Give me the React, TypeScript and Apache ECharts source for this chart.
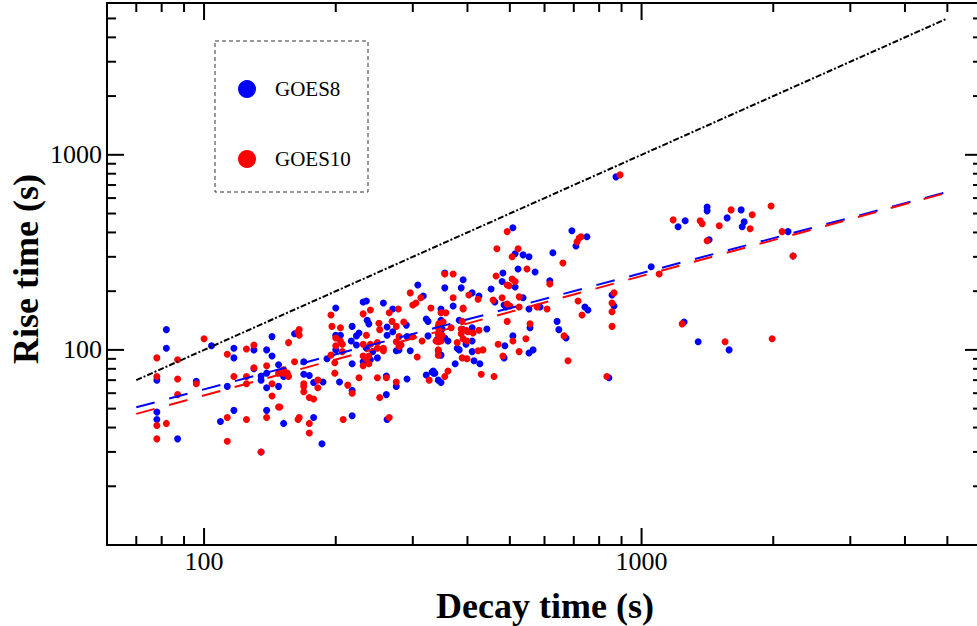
import React, { useEffect, useRef } from "react";
import * as echarts from "echarts";

// Decay time (s), Rise time (s)
const GOES8: [number, number][] = [
  [82,127],[82,102],[104,105],[78,70],[96,69],[78,48],[78,44],[87,35],[109,43],[117,102],[117,91],[113,65],[117,49],[130,100],[130,80],[135,73.5],[135,70],[135,30],[139,100],[143,93],[139,76],[139,64],[139,49],[143,117],[148,84],[152,73],[148,65],[152,42],[161,121],
  [308,215],[317,189],[231,176],[235,178],[257,174],[270,162],[200,164],[236,142],[238,136],[290,134],[262,131],[218,132],[322,144],[325,140],
  [163,122],[200,119],[205,119],[226,122],[223,118],[217,111],[262,119],[270,124],[291,117],[325,118],[200,100],[223,106],[235,102],[243,98],[275,99],[296,99],[279,100],[343,99],[191,90],[169,87],[231,87],[240,89],[249,91],[218,85],[169,75],[174,74],[178,68],[187,68.5],[204,68.5],[218,62],[261,73.5],[275,65],[291,71],[261,59],[322,74.4],[332,77],[335,76],[343,70],[178,45],[218,46],[262,44],[186,33],
  [508,423],[514,311],[536,307],[553,300],[693,408],[750,380],[708,341],[627,315],[522,260],[571,251],[355,248],[391,229],[482,248],[480,224],[514,210],[617,226],[355,208],[387,208],[453,205],[410,196],[425,189],[371,168],[462,176],[536,185],[485,170],[490,166],[553,162],[586,166],[348,162],[348,142],[383,142],[350,128],[391,127],[410,130],[443,128],[341,113],[355,115],[361,111],[379,102],[383,100],[397,107],[410,111],[348,94],[410,98],[414,88],[427,85],[556,130],[508,118],[487,105],[485,91],[553,96.5],[565,100],[641,140],[647,127],[672,115],[375,85],[334,78],[337,76],[348,68],[742,166],[754,160],
  [874,771],[1212,428],[1258,459],[1412,540],[1412,516],[1569,475],[1689,522],[1716,453],[1698,428],[1427,367],[1052,267],[865,168],[856,191],[1251,139],[1347,110],[1585,100],[842,72],[2162,404],[2220,303]
];

const GOES10: [number, number][] = [
  [100,114],[78,91],[87,89],[78,73],[87,71],[96,67],[87,59],[82,42],[78,41],[78,35],[113,95],[113,45],[113,34],[117,73],[125,101],[130,106],[130,81],[125,73],[125,67],[125,44],[135,30],[139,83],[143,67],[143,58],[139,45],[148,51],[148,76],[152,76],[156,73],[161,87],[164,124],[156,109],[164,44],
  [296,196],[313,185],[300,170],[305,174],[240,160],[231,153],[265,155],[278,162],[330,164],[195,151],[251,137],[269,140],[286,139],[275,132],[252,127],[196,132],[205,130],[343,132],[165,127],[165,119],[200,115],[205,111],[235,119],[279,117],[275,110],[300,117],[315,111],[343,121],[343,110],[200,105],[207,107],[207,98],[231,107],[240,107],[249,109],[249,102],[257,102],[279,104],[282,106],[257,99],[307,92],[343,94],[195,94],[231,93],[235,90],[238,93],[238,85],[231,83],[199,86],[199,76],[152,79],[155,76],[182,70],[169,67],[169,65],[182,64],[169,61],[213,66],[218,60],[226,72],[249,72],[261,72],[275,68.5],[252,57],[174,57],[178,56],[327,70],[165,45],[174,42],[174,37.5],[208,44],[265,45],[149,51],
  [493,404],[467,330],[522,330],[506,300],[712,358],[720,375],[727,380],[661,279],[547,260],[355,245],[371,245],[465,239],[506,231],[514,224],[493,215],[498,213],[617,218],[371,185],[403,191],[423,182],[391,164],[458,180],[480,185],[525,187],[500,168],[493,172],[525,166],[577,166],[608,162],[348,155],[357,155],[391,162],[352,139],[389,140],[344,136],[344,128],[367,130],[387,128],[397,126],[401,124],[412,122],[425,126],[387,121],[344,119],[350,119],[391,114],[348,111],[339,111],[399,111],[379,109],[343,100],[423,99],[434,100],[389,91],[399,90],[493,140],[556,136],[508,111],[544,114],[470,107],[482,93],[525,98],[665,118],[679,88],[361,78],[355,73],[430,75],[460,73],[716,178],[731,151],
  [893,789],[1181,464],[1361,459],[1376,443],[1505,433],[1602,522],[1790,493],[1771,418],[1977,547],[1412,363],[1097,245],[865,196],[856,174],[856,157],[856,132],[1238,136],[1552,110],[1988,114],[833,73],[2095,404],[2220,303]
];

const FIT_GOES8: [number, number][] = [[70, 50.8], [5000, 645]];
const FIT_GOES10: [number, number][] = [[70, 47.0], [5000, 640]];
const EQUALITY: [number, number][] = [[70, 70], [5000, 5000]];

const X_MAJOR = [100, 1000];
const X_MINOR = [70, 80, 90, 200, 300, 400, 500, 600, 700, 800, 900, 2000, 3000, 4000, 5000];
const Y_MAJOR = [100, 1000];
const Y_MINOR = [20, 30, 40, 50, 60, 70, 80, 90, 200, 300, 400, 500, 600, 700, 800, 900, 2000, 3000, 4000, 5000];

const X_RANGE = [60, 6000];
const Y_RANGE = [10, 6000];

const FONT = "'Liberation Serif', 'Times New Roman', serif";

export default function App() {
  const ref = useRef<HTMLDivElement>(null);

  useEffect(() => {
    if (!ref.current) return;
    const chart = echarts.init(ref.current, null, { renderer: "svg" });

    // kind: 0 x minor, 1 x major, 2 y minor, 3 y major
    const tickData: number[][] = [
      ...X_MINOR.map((v) => [v, Y_RANGE[0], 0]),
      ...X_MAJOR.map((v) => [v, Y_RANGE[0], 1]),
      ...Y_MINOR.map((v) => [X_RANGE[0], v, 2]),
      ...Y_MAJOR.map((v) => [X_RANGE[0], v, 3]),
    ];

    const isMajor = (v: number, list: number[]) =>
      list.some((m) => Math.abs(v - m) / m < 1e-6);

    const axisLine = { show: true, onZero: false, lineStyle: { color: "#000", width: 2 } };
    const xBase: any = {
      type: "log", logBase: 10, min: X_RANGE[0], max: X_RANGE[1],
      splitLine: { show: false }, axisTick: { show: false }, axisLine,
    };
    const yBase: any = {
      type: "log", logBase: 10, min: Y_RANGE[0], max: Y_RANGE[1],
      splitLine: { show: false }, axisTick: { show: false }, axisLine,
    };

    const renderItem = (params: any, api: any) => {
      const cs = params.coordSys;
      const kind = api.value(2);
      const stroke = { stroke: "#000", lineWidth: 2 };
      if (kind < 2) {
        const len = kind === 1 ? 17 : 9;
        const px = api.coord([api.value(0), Y_RANGE[0]])[0];
        const yb = cs.y + cs.height;
        return {
          type: "group",
          children: [
            { type: "line", shape: { x1: px, y1: yb, x2: px, y2: yb - len }, style: stroke },
            { type: "line", shape: { x1: px, y1: cs.y, x2: px, y2: cs.y + len }, style: stroke },
          ],
        };
      }
      const len = kind === 3 ? 17 : 9;
      const py = api.coord([X_RANGE[0], api.value(1)])[1];
      const xr = cs.x + cs.width;
      return {
        type: "group",
        children: [
          { type: "line", shape: { x1: cs.x, y1: py, x2: cs.x + len, y2: py }, style: stroke },
          { type: "line", shape: { x1: xr, y1: py, x2: xr - len, y2: py }, style: stroke },
        ],
      };
    };

    chart.setOption({
      animation: false,
      textStyle: { fontFamily: FONT },
      grid: { left: 107, top: 3, right: -5, bottom: 81, containLabel: false, outerBoundsMode: "none" },
      xAxis: [
        {
          ...xBase, position: "bottom",
          axisLabel: {
            show: true, fontSize: 26, color: "#000", fontFamily: FONT, margin: 3,
            formatter: (v: number) => (isMajor(v, X_MAJOR) ? String(Math.round(v)) : ""),
          },
        },
        { ...xBase, position: "top", axisLabel: { show: false } },
      ],
      yAxis: [
        {
          ...yBase, position: "left",
          axisLabel: {
            show: true, fontSize: 26, color: "#000", fontFamily: FONT, margin: 5,
            formatter: (v: number) => (isMajor(v, Y_MAJOR) ? String(Math.round(v)) : ""),
          },
        },
        { ...yBase, position: "right", axisLabel: { show: false } },
      ],
      series: [
        { type: "scatter", name: "GOES8", data: GOES8, symbolSize: 7, itemStyle: { color: "#0000ff", opacity: 1 } },
        { type: "scatter", name: "GOES10", data: GOES10, symbolSize: 7, itemStyle: { color: "#ff0000", opacity: 1 } },
        { type: "line", name: "GOES8 fit", data: FIT_GOES8, symbol: "none", showSymbol: false,
          lineStyle: { color: "#0000ff", width: 2, type: [19, 15] } },
        { type: "line", name: "GOES10 fit", data: FIT_GOES10, symbol: "none", showSymbol: false,
          lineStyle: { color: "#ff0000", width: 2, type: [19, 15] } },
        { type: "line", name: "equality", data: EQUALITY, symbol: "none", showSymbol: false,
          lineStyle: { color: "#000", width: 2, type: [6, 2, 2, 2] } },
        { type: "custom", name: "ticks", data: tickData, renderItem, encode: { x: 0, y: 1 }, silent: true, z: 10, clip: false },
      ],
      graphic: [
        { type: "rect", shape: { x: 215, y: 41, width: 153, height: 151 },
          style: { fill: "none", stroke: "#333", lineWidth: 1, lineDash: [4, 3] } },
        { type: "circle", shape: { cx: 247, cy: 89, r: 9 }, style: { fill: "#0000ff" } },
        { type: "text", x: 275, y: 89,
          style: { text: "GOES8", font: `21px ${FONT}`, fill: "#000", align: "left", verticalAlign: "middle" } },
        { type: "circle", shape: { cx: 247, cy: 159, r: 9 }, style: { fill: "#ff0000" } },
        { type: "text", x: 275, y: 159,
          style: { text: "GOES10", font: `21px ${FONT}`, fill: "#000", align: "left", verticalAlign: "middle" } },
        { type: "text", x: 545, y: 606,
          style: { text: "Decay time (s)", font: `bold 36px ${FONT}`, fill: "#000", align: "center", verticalAlign: "middle" } },
        { type: "text", x: 26, y: 269, rotation: Math.PI / 2,
          style: { text: "Rise time (s)", font: `bold 36px ${FONT}`, fill: "#000", align: "center", verticalAlign: "middle" } },
      ],
    });

    return () => chart.dispose();
  }, []);

  return (
    <div
      ref={ref}
      style={{ position: "absolute", left: 0, top: 0, width: 977, height: 626, background: "#fff" }}
    />
  );
}
